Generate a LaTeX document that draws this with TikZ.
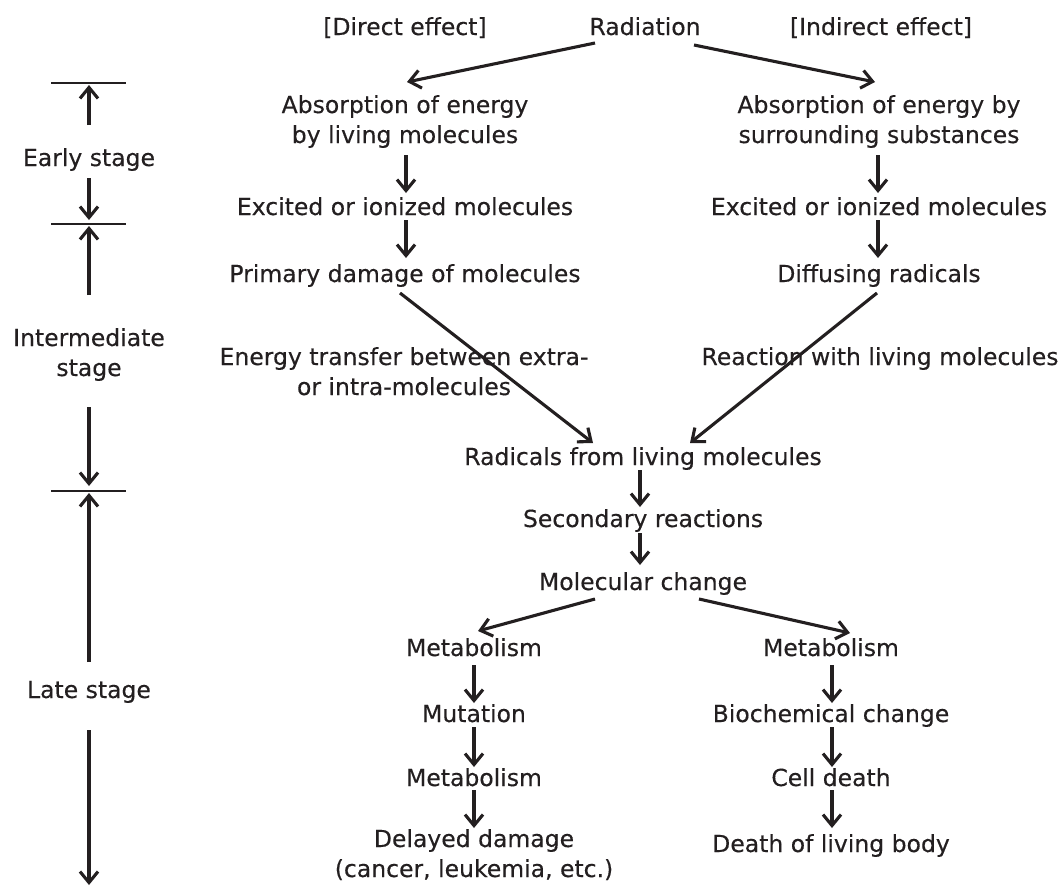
\documentclass[tikz,border=0pt]{standalone}
\usepackage{fontspec}
\setmainfont{DejaVu Sans}[FakeBold=0.3]
\usetikzlibrary{arrows.meta,calc}
\definecolor{ink}{RGB}{35,31,32}
\begin{document}
\begin{tikzpicture}[x=1pt,y=-1pt,
  lbl/.style={font=\fontsize{23.5}{30}\selectfont, text=ink, inner sep=0pt, align=center, anchor=base},
  arr/.style={draw=ink, line width=3.1pt, -{Straight Barb[length=11pt,width=18pt]}},
  tick/.style={draw=ink, line width=2.1pt}]
\useasboundingbox (0,0) rectangle (1063,887);
% headers
\node[lbl] (direct) at (405,35) {[Direct effect]};
\node[lbl] (rad) at (645,35) {Radiation};
\node[lbl] (indirect) at (881,35) {[Indirect effect]};
% direct branch
\node[lbl] (abs1) at (405,143) {Absorption of energy\\by living molecules};
\node[lbl] (exc1) at (405,215) {Excited or ionized molecules};
\node[lbl] (prim) at (405,282) {Primary damage of molecules};
\node[lbl] (etr) at (404,395) {Energy transfer between extra-\\or intra-molecules};
% indirect branch
\node[lbl] (abs2) at (879,143) {Absorption of energy by\\surrounding substances};
\node[lbl] (exc2) at (879,215) {Excited or ionized molecules};
\node[lbl] (diff) at (879,282) {Diffusing radicals};
\node[lbl] (react) at (880,365) {Reaction with living molecules};
% center
\node[lbl] (radl) at (643,465) {Radicals from living molecules};
\node[lbl] (sec) at (643,527) {Secondary reactions};
\node[lbl] (mol) at (643,590) {Molecular change};
% left lower
\node[lbl] (met1) at (474,656) {Metabolism};
\node[lbl] (mut) at (474,722) {Mutation};
\node[lbl] (met3) at (474,786) {Metabolism};
\node[lbl] (dly) at (474,877) {Delayed damage\\(cancer, leukemia, etc.)};
% right lower
\node[lbl] (met2) at (831,656) {Metabolism};
\node[lbl] (bio) at (831,722) {Biochemical change};
\node[lbl] (cell) at (831,786) {Cell death};
\node[lbl] (death) at (831,852) {Death of living body};
% stages
\node[lbl] (early) at (89,166) {Early stage};
\node[lbl] (inter) at (89,376) {Intermediate\\stage};
\node[lbl] (late) at (89,698) {Late stage};
\coordinate (t1) at (89,83);
\coordinate (t2) at (89,224);
\coordinate (t3) at (89,491);
\coordinate (bend) at (89,885);
\foreach \t in {t1,t2,t3} \draw[tick] ($(\t)+(-38,0)$) -- ($(\t)+(37,0)$);
\draw[arr] ($(early.base)+(0,-41)$) -- ($(t1)+(0,2)$);
\draw[arr] ($(early.base)+(0,12)$) -- ($(t2)+(0,-4)$);
\draw[arr] ($(inter.base)+(0,-81)$) -- ($(t2)+(0,2)$);
\draw[arr] ($(inter.base)+(0,31)$) -- ($(t3)+(0,-5)$);
\draw[arr] ($(late.base)+(0,-36)$) -- ($(t3)+(0,2)$);
\draw[arr] ($(late.base)+(0,32)$) -- (bend);
% connectors
\draw[arr] ($(rad.base)+(-50,8)$) -- ($(abs1.base)+(2,-61)$);
\draw[arr] ($(rad.base)+(49,10)$) -- ($(abs2.base)+(-4,-61)$);
\draw[arr] ($(abs1.base)+(1,12)$) -- ($(exc1.base)+(1,-22)$);
\draw[arr] ($(exc1.base)+(1,5)$) -- ($(prim.base)+(1,-24)$);
\draw[arr] ($(abs2.base)+(-1,12)$) -- ($(exc2.base)+(-1,-22)$);
\draw[arr] ($(exc2.base)+(-1,5)$) -- ($(diff.base)+(-1,-24)$);
\draw[arr] ($(prim.base)+(-5,11)$) -- ($(radl.base)+(-50,-22)$);
\draw[arr] ($(diff.base)+(-2,11)$) -- ($(radl.base)+(47,-22)$);
\draw[arr] ($(radl.base)+(-3,5)$) -- ($(sec.base)+(-3,-20)$);
\draw[arr] ($(sec.base)+(-3,6)$) -- ($(mol.base)+(-3,-25)$);
\draw[arr] ($(mol.base)+(-48,9)$) -- ($(met1.base)+(4,-25)$);
\draw[arr] ($(mol.base)+(56,9)$) -- ($(met2.base)+(19,-23)$);
\draw[arr] ($(met1.base)+(0,9)$) -- ($(mut.base)+(0,-19)$);
\draw[arr] ($(mut.base)+(0,5)$) -- ($(met3.base)+(0,-19)$);
\draw[arr] ($(met3.base)+(0,4)$) -- ($(dly.base)+(0,-49)$);
\draw[arr] ($(met2.base)+(1,9)$) -- ($(bio.base)+(1,-19)$);
\draw[arr] ($(bio.base)+(1,5)$) -- ($(cell.base)+(1,-19)$);
\draw[arr] ($(cell.base)+(1,4)$) -- ($(death.base)+(1,-24)$);
\end{tikzpicture}
\end{document}
